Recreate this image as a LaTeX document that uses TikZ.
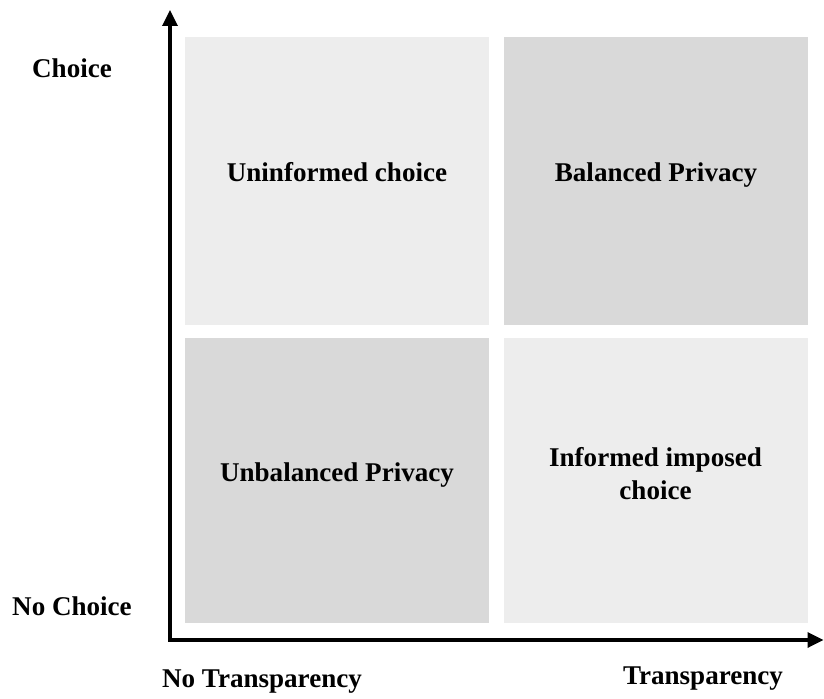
\documentclass[tikz,border=0pt]{standalone}
\usepackage{xcolor}
\usepackage{tikz}
\usepackage{fontspec}
\setmainfont{Liberation Serif}
\usetikzlibrary{arrows.meta}
\definecolor{lightq}{HTML}{EDEDED}
\definecolor{darkq}{HTML}{D9D9D9}

\begin{document}
\begin{tikzpicture}[every node/.style={align=center,font=\bfseries\fontsize{15.4}{18.8}\selectfont},
    quad/.style={shape=rectangle,minimum width=6.08cm,minimum height=5.74cm,inner sep=0pt},
    axis/.style={line width=1.9pt,-{Triangle[width=0.3cm,length=0.32cm]}}]
          \useasboundingbox (0,0) rectangle (16.48,13.96);
          \node[quad,fill=lightq] (ul) at (6.74,10.34) {};
          \node[quad,fill=darkq] (ur) at (13.12,10.34) {};
          \node[quad,fill=darkq,minimum height=5.70cm] (ll) at (6.74,4.35) {};
          \node[quad,fill=lightq,minimum height=5.70cm] (lr) at (13.11,4.35) {};
          \node[anchor=base] at ([yshift=-0.01cm]ul.center) {Uninformed choice};
          \node[anchor=base] at ([yshift=-0.01cm]ur.center) {Balanced Privacy};
          \node[anchor=base] at ([yshift=-0.01cm]ll.center) {Unbalanced Privacy};
          \node at ([yshift=0.14cm]lr.center) {Informed imposed\\choice};
          \coordinate (origin) at (3.4,1.16);
          \coordinate (ytip) at (3.4,13.76);
          \coordinate (xtip) at (16.47,1.16);
          \draw[axis] ([yshift=-0.033cm]origin) -- (ytip);
          \draw[axis] ([xshift=-0.033cm]origin) -- (xtip);
          \node (choice) at (1.44,12.6) {Choice};
          \node (nochoice) at (1.44,1.84) {No Choice};
          \node (notrans) at (5.24,0.32) {No Transparency};
          \node (trans) at (14.06,0.38) {Transparency};
    \end{tikzpicture}
\end{document}
